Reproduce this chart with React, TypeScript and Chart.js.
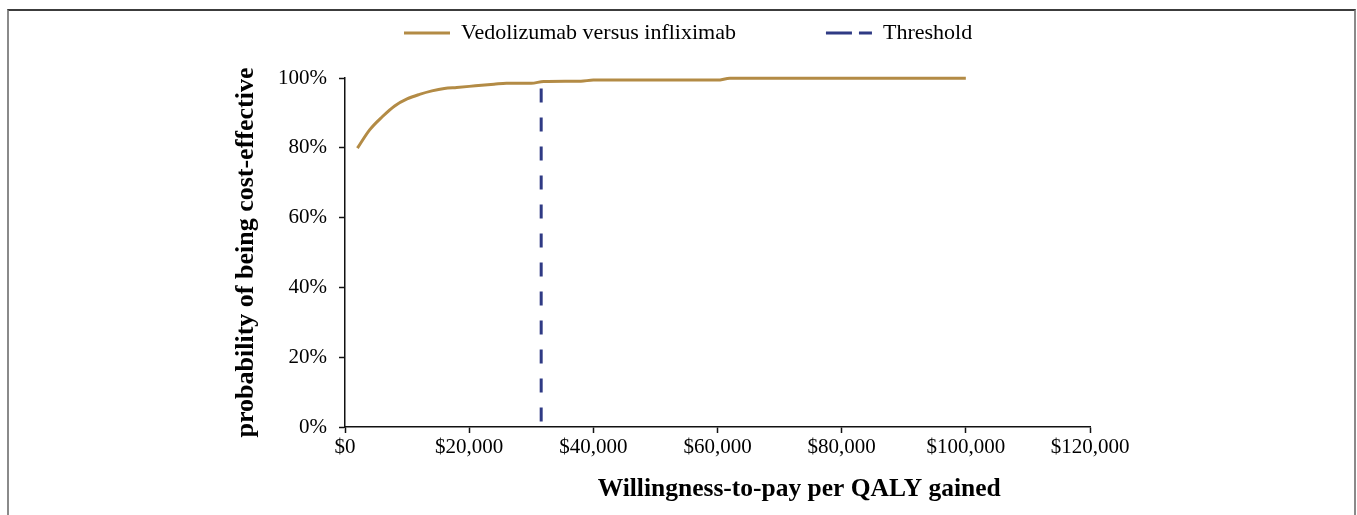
import React, { useEffect, useRef } from 'react';
import { Chart, registerables } from 'chart.js';

Chart.register(...registerables);

// Willingness-to-pay values ($) and probability of being cost-effective (%)
const wtpValues = [2000, 4000, 6000, 8000, 10000, 12000, 14000, 16000, 18000, 20000, 22000, 24000, 26000, 30000, 32000, 38000, 40000, 60000, 62000, 100000];
const probValues = [79.9, 85.2, 88.9, 92.0, 94.0, 95.3, 96.3, 97.0, 97.3, 97.6, 97.9, 98.2, 98.5, 98.5, 99.0, 99.1, 99.4, 99.4, 99.9, 99.9];

const thresholdWtp = [31600, 31600];
const thresholdProb = [97.0, 0];

const seriesLabels = ['Vedolizumab versus infliximab', 'Threshold'];
const xTickLabels = ['$0', '$20,000', '$40,000', '$60,000', '$80,000', '$100,000', '$120,000'];
const yTickLabels = ['0%', '20%', '40%', '60%', '80%', '100%'];

const GOLD = '#B38B45';
const NAVY = '#2F3A84';
const FONT = "'Liberation Serif', 'Times New Roman', serif";

const LEGEND_X = 404;
const LEGEND_Y = 33;

const legendPlacer = {
  id: 'legendPlacer',
  afterLayout(chart: any) {
    const lg: any = chart.legend;
    if (!lg || !lg.lineWidths || !lg.options) return;
    const pad = lg.options.labels.padding;
    const fs = lg.options.labels.font?.size ?? 22;
    const startX = (lg.left + pad + lg.right - lg.lineWidths[0]) / 2;
    const dx = LEGEND_X - startX;
    const dy = LEGEND_Y - (lg.top + pad + fs / 2);
    lg.left += dx;
    lg.right += dx;
    lg.top += dy;
  },
};

export default function App() {
  const ref = useRef<HTMLCanvasElement | null>(null);

  useEffect(() => {
    if (!ref.current) return;
    const chart = new Chart(ref.current, {
      type: 'line',
      data: {
        datasets: [
          {
            label: seriesLabels[0],
            data: wtpValues.map((x, i) => ({ x, y: probValues[i] })),
            borderColor: GOLD,
            backgroundColor: GOLD,
            borderWidth: 3,
            pointRadius: 0,
            cubicInterpolationMode: 'monotone',
            fill: false,
            clip: false,
          },
          {
            label: seriesLabels[1],
            data: thresholdWtp.map((x, i) => ({ x, y: thresholdProb[i] })),
            borderColor: NAVY,
            backgroundColor: NAVY,
            borderWidth: 3,
            borderDash: [14, 15],
            pointRadius: 0,
            fill: false,
          },
        ],
      },
      plugins: [legendPlacer],
      options: {
        animation: false,
        responsive: false,
        devicePixelRatio: 1,
        layout: { padding: { left: 0, right: 267, top: 0, bottom: 0 } },
        plugins: {
          tooltip: { enabled: false },
          legend: {
            display: true,
            position: 'top',
            maxHeight: 78,
            labels: {
              color: '#000',
              font: { family: FONT, size: 22 },
              boxWidth: 46,
              boxHeight: 0,
              padding: 90,
              generateLabels: (c: any) => {
                const items = Chart.defaults.plugins.legend.labels.generateLabels(c);
                return items.map((it: any, i: number) => ({
                  ...it,
                  lineWidth: 3,
                  lineDash: i === 1 ? [13, 20] : [],
                }));
              },
            },
          },
        },
        scales: {
          x: {
            type: 'linear',
            min: 0,
            max: 120000,
            afterFit: (s: any) => { s.height = 88; },
            ticks: {
              stepSize: 20000,
              color: '#000',
              font: { family: FONT, size: 21 },
              padding: 2,
              maxRotation: 0,
              callback: (_v: any, i: number) => xTickLabels[i],
            },
            grid: { display: true, drawOnChartArea: false, drawTicks: true, tickLength: 6, tickWidth: 1.5, tickColor: '#111' },
            border: { display: true, color: '#111', width: 1.5 },
            title: {
              display: true,
              text: 'Willingness-to-pay per QALY gained' + ' '.repeat(14),
              align: 'end',
              color: '#000',
              font: { family: FONT, size: 25.5, weight: 'bold' },
              padding: { top: 0, bottom: 10 },
            },
          },
          y: {
            min: 0,
            max: 100,
            afterFit: (s: any) => { s.width = 345; },
            ticks: {
              stepSize: 20,
              color: '#000',
              font: { family: FONT, size: 21 },
              padding: 12,
              callback: (_v: any, i: number) => yTickLabels[i],
            },
            grid: { display: true, drawOnChartArea: false, drawTicks: true, tickLength: 6, tickWidth: 1.5, tickColor: '#111' },
            border: { display: true, color: '#111', width: 1.5 },
            title: {
              display: true,
              text: 'probability of being cost-effective',
              color: '#000',
              font: { family: FONT, size: 26, weight: 'bold' },
              padding: { top: 231, bottom: 0 },
            },
          },
        },
      },
    } as any);
    return () => chart.destroy();
  }, []);

  return (
    <div style={{ position: 'absolute', left: 0, top: 0, width: 1357, height: 515, overflow: 'hidden', background: '#fff' }}>
      <canvas ref={ref} width={1357} height={515} style={{ position: 'absolute', left: 0, top: 0 }} />
      <div
        style={{
          position: 'absolute',
          left: 7,
          top: 9,
          width: 1349,
          height: 506,
          boxSizing: 'border-box',
          borderLeft: '2px solid #8a8a8a',
          borderTop: '2px solid #3c3c3c',
          borderRight: '2px solid #8a8a8a',
          pointerEvents: 'none',
        }}
      />
    </div>
  );
}
